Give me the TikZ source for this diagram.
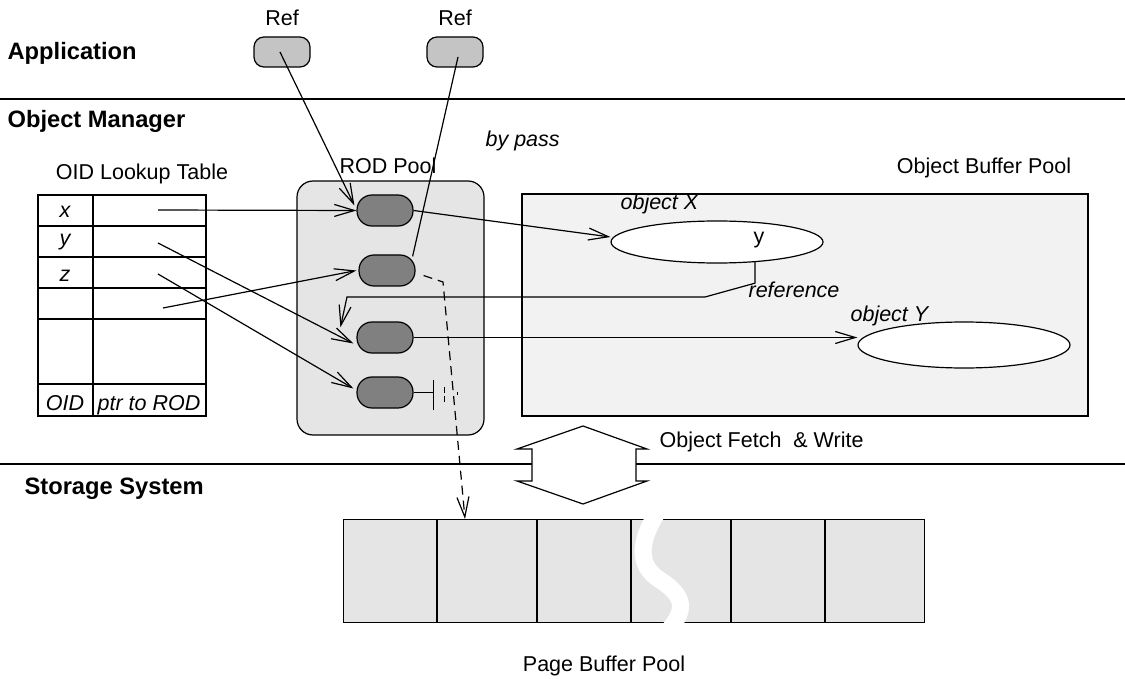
\documentclass[tikz,border=0pt]{standalone}
\usepackage{fontspec}
\setmainfont{Liberation Sans}
\usetikzlibrary{arrows.meta,shapes.geometric,calc}
\definecolor{refgray}{HTML}{C4C4C4}
\definecolor{rodgray}{HTML}{808080}
\definecolor{poolgray}{HTML}{E5E5E5}
\definecolor{bufgray}{HTML}{F2F2F2}
\begin{document}
\begin{tikzpicture}[x=1pt,y=-1pt,line width=1.2pt,
  txt/.style={inner sep=0pt,font=\fontsize{21.5}{24}\selectfont},
  itxt/.style={inner sep=0pt,font=\fontsize{21.5}{24}\selectfont\itshape},
  layer/.style={inner sep=0pt,font=\fontsize{23.7}{26}\selectfont\bfseries},
  refbox/.style={draw,fill=refgray,rounded corners=10pt,minimum width=56pt,minimum height=30pt,inner sep=0pt},
  rod/.style={draw,fill=rodgray,rounded corners=15pt,minimum width=56pt,minimum height=31pt,inner sep=0pt},
  obj/.style={draw,fill=white,ellipse,inner sep=0pt},
  ptr/.style={-{Straight Barb[length=20pt,width=12pt]}},
  bypass/.style={ptr,dash pattern=on 9pt off 6pt}]
\useasboundingbox (0,0) rectangle (1125,679);

% layer separators
\draw (0,99) -- (1125,99);
\draw (0,464) -- (1125,464);

% layer titles
\node[layer,anchor=base west] (app) at (7,60) {Application};
\node[layer,anchor=base west] (om) at (7,128) {Object Manager};
\node[layer,anchor=base west] (ss) at (24,494) {Storage System};

% application references
\node[refbox] (r1) at (282,52) {};
\node[refbox] (r2) at (455,52) {};
\node[txt,anchor=base] (r1l) at (282,26) {Ref};
\node[txt,anchor=base] (r2l) at (455,26) {Ref};

% OID lookup table
\node[txt,anchor=base] (oidl) at (142,180) {OID Lookup Table};
\draw (38,195) rectangle (206,416);
\draw (93,195) -- (93,416);
\foreach \yy in {226,257,384} \draw (38,\yy) -- (206,\yy);
\draw[line width=1.8pt] (38,288) rectangle (206,319);
\node[itxt,anchor=base] (kx) at (65,218) {x};
\node[itxt,anchor=base] (ky) at (65,246) {y};
\node[itxt,anchor=base] (kz) at (65,282) {z};
\node[itxt,anchor=base] (koid) at (65,410) {OID};
\node[itxt,anchor=base] (kptr) at (149,410) {ptr to ROD};
\coordinate (px) at (158,210);
\coordinate (py) at (158,243);
\coordinate (pz) at (158,274);
\coordinate (pw) at (163,308);

% ROD pool
\node[txt,anchor=base] (rodl) at (388,174) {ROD Pool};
\draw[fill=poolgray,rounded corners=16pt] (297,181) rectangle (484,435);
\node[rod] (n1) at (385,210.5) {};
\node[rod] (n2) at (387,270.5) {};
\node[rod] (n3) at (385,337.5) {};
\node[rod] (n4) at (385,392.5) {};

% object buffer pool
\node[txt,anchor=base] (obpl) at (984,174) {Object Buffer Pool};
\draw[fill=bufgray] (522,194) rectangle (1088,416);
\node[obj,minimum width=212pt,minimum height=42pt] (ox) at (717,242) {};
\node[obj,minimum width=212pt,minimum height=46pt] (oy) at (964,345) {};
\node[itxt,anchor=base west] (oxl) at (620,210) {object X};
\node[txt,anchor=base] (oyf) at (759,244) {y};
\node[itxt,anchor=base west] (oyl) at (850,321) {object Y};
\node[itxt,anchor=base west] (refl) at (748,298) {reference};
\node[itxt,anchor=base west] (bp) at (485,147) {by pass};

% page buffer pool
\node[draw,fill=poolgray,anchor=north west,minimum width=581pt,minimum height=103pt,inner sep=0pt] (pb) at (343,519) {};
\foreach \xx in {437,537,631,731,825} \draw (\xx,519) -- (\xx,622);
\draw[white,line width=17pt] (657,513) .. controls (640,540) and (636,565) .. (660,580) .. controls (688,598) and (684,612) .. (668,631);
\node[txt,anchor=base] (pbl) at (604,671) {Page Buffer Pool};

% object fetch and write
\draw[fill=white] (583,426) -- (647,449) -- (636,449) -- (636,481) -- (647,481) -- (583,504)
  -- (517,481) -- (532,481) -- (532,449) -- (517,449) -- cycle;
\node[txt,anchor=base west] (ofw) at (659,447) {Object Fetch\ \ \& Write};

% pointers from the table into the ROD pool
\draw[ptr] (px) -- (n1.west);
\draw[ptr] (py) -- ([xshift=-3pt,yshift=-6pt]n3.west);
\draw[ptr] (pz) -- ([xshift=-3pt,yshift=4pt]n4.west);
\draw[ptr] (pw) -- ([xshift=-2pt]n2.west);

% application references into the ROD pool
\draw[ptr] ([xshift=-2pt]r1.center) -- ([xshift=-2pt,yshift=5pt]n1.west);
\draw ([xshift=3pt,yshift=-5pt]r2.center) -- ([xshift=-3pt,yshift=-2pt]n2.north east);

% RODs to objects
\draw[ptr] (n1.east) -- ([yshift=5pt]ox.west);
\draw[ptr] (n3.east) -- (oy.west |- n3.east);
\draw[ptr] (ox.-28) -- ++(0,21) -- (705,297) -- (347,297) -- ([xshift=-16pt,yshift=-6pt]n3.north west);

% dangling ROD
\draw (n4.east) -- ++(20,0) coordinate (gnd);
\draw ([yshift=13pt]gnd) -- ([yshift=-17pt]gnd);
\draw[dash pattern=on 6pt off 3pt] ([xshift=11pt,yshift=6pt]gnd) -- ([xshift=11pt,yshift=-10pt]gnd);
\draw ([xshift=24pt,yshift=1pt]gnd) -- ([xshift=24pt,yshift=-2pt]gnd);

% by pass to the page buffer
\draw[bypass] ([xshift=8pt,yshift=-5pt]n2.east) -- (443,282) -- ([xshift=122pt]pb.north west);
\end{tikzpicture}
\end{document}
